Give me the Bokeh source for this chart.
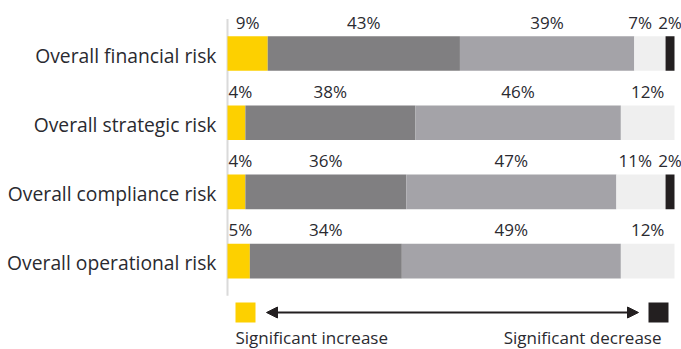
from bokeh.plotting import figure
from bokeh.models import Range1d, ColumnDataSource, Arrow, NormalHead
from bokeh.core.properties import value
from bokeh.embed import file_html
from bokeh.resources import INLINE

# Risk outlook survey: share of respondents per change level
categories = ["Overall financial risk", "Overall strategic risk",
              "Overall compliance risk", "Overall operational risk"]
levels = ["Significant increase", "Increase", "No change", "Decrease", "Significant decrease"]
sig_increase = [9, 4, 4, 5]
increase = [43, 38, 36, 34]
no_change = [39, 46, 47, 49]
decrease = [7, 12, 11, 12]
sig_decrease = [2, 0, 2, 0]

colors = ["#FDD000", "#807F81", "#A4A3A8", "#EFEFEF", "#231F20"]
series = [sig_increase, increase, no_change, decrease, sig_decrease]

W, H = 681, 349
FONT = "Open Sans"
TEXT = "#2A2A30"

# pixel geometry of the plotting frame
X0_PX = 227.0          # where 0 % sits
PX_PER_PCT = 4.47
ROW_TOP_PX = 18.4
ROW_PX = 69.2

def xd(px):
    return (px - X0_PX) / PX_PER_PCT

def yd(px):
    return (px - ROW_TOP_PX) / ROW_PX - 0.5

def base_y(px, fs):
    # the svg text sits a little below the requested alphabetic baseline
    return yd(px - 0.42 * fs)

p = figure(width=W, height=H, output_backend="svg", toolbar_location=None,
           x_range=Range1d(xd(0), xd(W)), y_range=Range1d(yd(H), yd(0)),
           x_axis_type=None, y_axis_type=None, min_border=0,
           outline_line_color=None, background_fill_color="white",
           border_fill_color="white")
p.grid.visible = False

# left baseline rule
p.segment(x0=[0], y0=[-0.5], x1=[0], y1=[len(categories) - 0.5],
          line_color="#DADADA", line_width=2)

rows = list(range(len(categories)))
bar_h = 0.5

# stacked bars
cum = [0.0] * len(categories)
for vals, col, name in zip(series, colors, levels):
    left = list(cum)
    right = [c + v for c, v in zip(cum, vals)]
    src = ColumnDataSource(dict(y=rows, left=left, right=right))
    p.hbar(y="y", left="left", right="right", height=bar_h, source=src,
           fill_color=col, line_color=None)
    cum = right

# percentage labels above each segment, nudged apart where crowded
PCT_FS = 17
def text_w_px(s):
    digits = sum(ch.isdigit() for ch in s)
    return PCT_FS * (0.572 * digits + 0.834)

lab_x, lab_y, lab_t = [], [], []
gap_px = 6
for r in rows:
    vals = [s[r] for s in series]
    starts = [sum(vals[:i]) for i in range(len(vals))]
    items = []
    for v, st in zip(vals, starts):
        if v <= 0:
            continue
        t = f"{v}%"
        c_px = X0_PX + (st + v / 2) * PX_PER_PCT
        items.append([c_px, text_w_px(t), t])
    # keep the first label inside the bar start
    if items and items[0][0] - items[0][1] / 2 < X0_PX + 1:
        items[0][0] = X0_PX + 1 + items[0][1] / 2
    # push labels left when they would collide with the next one
    for i in range(len(items) - 2, -1, -1):
        nxt_left = items[i + 1][0] - items[i + 1][1] / 2
        right = items[i][0] + items[i][1] / 2
        if right > nxt_left - gap_px:
            items[i][0] = nxt_left - gap_px - items[i][1] / 2
    base_px = ROW_TOP_PX + (r + 0.5) * ROW_PX - bar_h * ROW_PX / 2 - 7
    for c_px, w, t in items:
        lab_x.append(xd(c_px))
        lab_y.append(base_y(base_px, PCT_FS))
        lab_t.append(t)

p.text(x=lab_x, y=lab_y, text=lab_t, text_align="center",
       text_baseline="alphabetic", text_font=value(FONT),
       text_font_size=f"{PCT_FS}px", text_color=TEXT)

# category labels
CAT_FS = 19.3
cat_y = [base_y(ROW_TOP_PX + (r + 0.5) * ROW_PX + 10, CAT_FS) for r in rows]
p.text(x=[xd(216)] * len(categories), y=cat_y, text=categories,
       text_align="right", text_baseline="alphabetic",
       text_font=value(FONT), text_font_size=f"{CAT_FS}px", text_color=TEXT)

# scale key: yellow and black squares joined by a double-headed arrow
p.quad(left=[xd(235), xd(648)], right=[xd(255), xd(668)],
       top=[yd(302), yd(302)], bottom=[yd(322), yd(322)],
       fill_color=[colors[0], colors[-1]], line_color=None)
p.add_layout(Arrow(x_start=xd(266), y_start=yd(312), x_end=xd(638), y_end=yd(312),
                   line_color="#231F20", line_width=2,
                   start=NormalHead(size=11, fill_color="#231F20", line_color="#231F20"),
                   end=NormalHead(size=11, fill_color="#231F20", line_color="#231F20")))
p.text(x=[xd(235)], y=[base_y(344, 17)], text=[levels[0]], text_align="left",
       text_baseline="alphabetic", text_font=value(FONT),
       text_font_size="17px", text_color=TEXT)
p.text(x=[xd(661)], y=[base_y(344, 17)], text=[levels[-1]], text_align="right",
       text_baseline="alphabetic", text_font=value(FONT),
       text_font_size="17px", text_color=TEXT)

open("out.html", "w").write(file_html(p, INLINE))
